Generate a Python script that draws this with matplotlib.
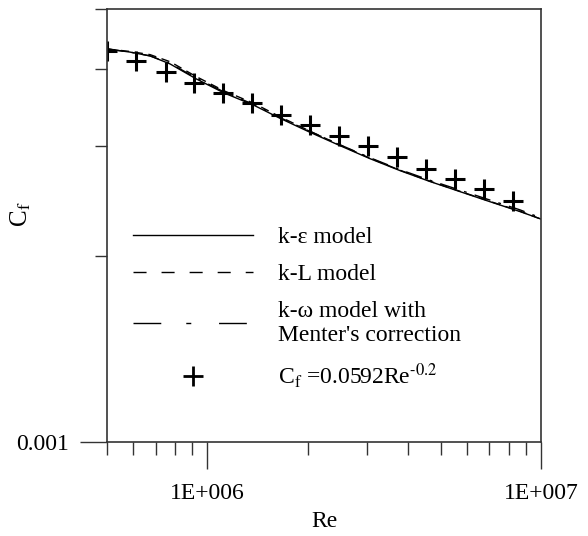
import matplotlib
matplotlib.use("Agg")
import matplotlib.pyplot as plt
from matplotlib.lines import Line2D
from matplotlib.ticker import FixedLocator, NullFormatter, FixedFormatter

plt.rcParams['font.family'] = ['Liberation Serif', 'DejaVu Serif']
plt.rcParams['mathtext.fontset'] = 'stix'

# model curves
re_model = [5.0e5, 5.86e5, 6.73e5, 7.73e5, 9.25e5, 1.12e6, 1.38e6, 1.65e6,
            2.03e6, 2.50e6, 3.07e6, 3.78e6, 4.65e6, 5.72e6, 7.03e6, 8.65e6, 1.0e7]
cf_keps = [4.31e-3, 4.26e-3, 4.20e-3, 4.076e-3, 3.857e-3, 3.661e-3, 3.495e-3, 3.331e-3,
           3.162e-3, 3.008e-3, 2.867e-3, 2.742e-3, 2.633e-3, 2.536e-3, 2.443e-3, 2.355e-3, 2.29e-3]
cf_kl = [4.31e-3, 4.27e-3, 4.22e-3, 4.11e-3, 3.89e-3, 3.69e-3, 3.52e-3, 3.35e-3,
         3.175e-3, 3.015e-3, 2.872e-3, 2.746e-3, 2.636e-3, 2.539e-3, 2.446e-3, 2.358e-3, 2.29e-3]
cf_kw = [4.31e-3, 4.26e-3, 4.20e-3, 4.085e-3, 3.87e-3, 3.675e-3, 3.505e-3, 3.34e-3,
         3.172e-3, 3.018e-3, 2.877e-3, 2.752e-3, 2.645e-3, 2.550e-3, 2.458e-3, 2.370e-3, 2.30e-3]

# empirical correlation points
re_pts = [5.0e5, 6.1e5, 7.5e5, 9.1e5, 1.11e6, 1.36e6, 1.66e6, 2.03e6,
          2.48e6, 3.03e6, 3.70e6, 4.52e6, 5.52e6, 6.74e6, 8.24e6]
cf_pts = [4.28e-3, 4.12e-3, 3.96e-3, 3.80e-3, 3.66e-3, 3.52e-3, 3.37e-3, 3.25e-3,
          3.12e-3, 3.00e-3, 2.88e-3, 2.76e-3, 2.66e-3, 2.56e-3, 2.45e-3]

x_major = [1e6, 1e7]
x_major_labels = ["1E+006", "1E+007"]
x_minor = [5e5, 6e5, 7e5, 8e5, 9e5, 2e6, 3e6, 4e6, 5e6, 6e6, 7e6, 8e6, 9e6]
y_major = [0.001]
y_major_labels = ["0.001"]
y_minor = [0.002, 0.003, 0.004, 0.005]

kw_dash = (20, 18, 3.6, 20)

fig = plt.figure(figsize=(5.88, 5.36), dpi=100)
ax = fig.add_axes([0.182, 0.1754, 0.738, 0.8078])

ax.plot(re_model, cf_keps, color='black', lw=1.0)
ax.plot(re_model, cf_kl, color='black', lw=1.0, linestyle=(0, (6, 4)))
ax.plot(re_model, cf_kw, color='black', lw=1.0, linestyle=(0, (12, 6, 2, 6)))
ax.plot(re_pts, cf_pts, linestyle='none', marker='+', color='black',
        markersize=14, markeredgewidth=2.2)

ax.set_xscale('log')
ax.set_yscale('log')
ax.set_xlim(5e5, 1e7)
ax.set_ylim(0.001, 0.005)

ax.xaxis.set_major_locator(FixedLocator(x_major))
ax.xaxis.set_major_formatter(FixedFormatter(x_major_labels))
ax.xaxis.set_minor_locator(FixedLocator(x_minor))
ax.xaxis.set_minor_formatter(NullFormatter())
ax.yaxis.set_major_locator(FixedLocator(y_major))
ax.yaxis.set_major_formatter(FixedFormatter(y_major_labels))
ax.yaxis.set_minor_locator(FixedLocator(y_minor))
ax.yaxis.set_minor_formatter(NullFormatter())

ax.tick_params(which='major', direction='out', length=19.5, width=1.0,
               labelsize=17, pad=8, color='#333333')
ax.tick_params(axis='x', which='major', pad=10)
ax.tick_params(which='minor', direction='out', length=9, width=1.0, color='#333333')
for s in ax.spines.values():
    s.set_color('#333333')
    s.set_linewidth(1.2)

ax.set_xlabel("Re", fontsize=17, labelpad=5)
ax.set_ylabel(r"C$_\mathrm{f}$", fontsize=18)
ax.yaxis.set_label_coords(-0.17, 0.527)

handles = [
    Line2D([], [], color='black', lw=1.0),
    Line2D([], [], color='black', lw=1.0, linestyle=(0, (9.4, 10.8))),
    Line2D([], [], color='black', lw=1.0, linestyle=(0, kw_dash)),
    Line2D([], [], color='black', linestyle='none', marker='+',
           markersize=14, markeredgewidth=2.0),
]
labels = ["k-ε model", "k-L model", "k-ω model with\nMenter's correction",
          r"C$_\mathrm{f}$ =0.0592Re$^{\text{-0.2}}$"]
ax.legend(handles, labels, loc='upper left', bbox_to_anchor=(0.06, 0.498),
          frameon=False, fontsize=17, handlelength=5.1, handletextpad=1.05,
          labelspacing=0.66, borderpad=0, borderaxespad=0)

fig.savefig("out.png", dpi=100)
